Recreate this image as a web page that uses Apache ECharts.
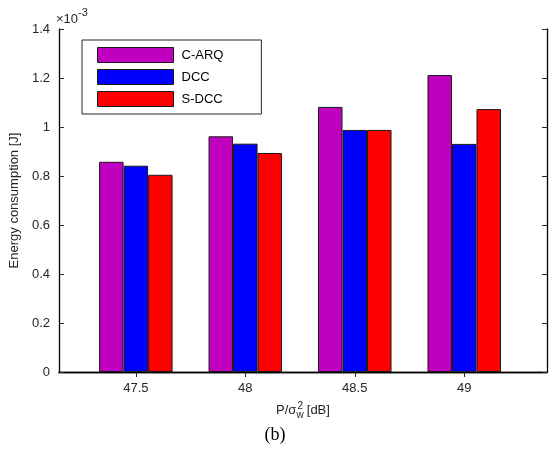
<!DOCTYPE html>
<html>
<head>
<meta charset="utf-8">
<script src="https://cdn.jsdelivr.net/npm/echarts@6/dist/echarts.min.js"></script>
<style>
  html, body { margin: 0; padding: 0; background: #fff; }
  #chart { width: 550px; height: 452px; }
</style>
</head>
<body>
<div id="chart"></div>
<script>
var snr = [47.5, 48, 48.5, 49];
var carq = [0.858, 0.962, 1.082, 1.212];
var dcc = [0.842, 0.932, 0.988, 0.931];
var sdcc = [0.805, 0.894, 0.988, 1.073];
var yTicks = [0, 0.2, 0.4, 0.6, 0.8, 1, 1.2, 1.4];

var font = 'Liberation Sans, Arial, sans-serif';
var ink = '#262626';

function pairs(vals) {
    return vals.map(function (v, i) { return [snr[i], v]; });
}

function barSeries(name, color, vals) {
    return {
        name: name,
        type: 'bar',
        data: pairs(vals),
        barWidth: 24.5,
        barGap: '0%',
        itemStyle: { color: color, borderColor: '#1a1a1a', borderWidth: 1 },
        emphasis: { disabled: true }
    };
}

var chart = echarts.init(document.getElementById('chart'));
var option = {
    animation: false,
    grid: { left: 55, right: 3, top: 29, bottom: 80, containLabel: false },
    legend: {
        left: 82, top: 40,
        orient: 'vertical',
        icon: 'rect',
        itemWidth: 76, itemHeight: 15, itemGap: 6,
        padding: [7, 38, 7, 15],
        backgroundColor: '#fff',
        borderColor: ink, borderWidth: 1,
        textStyle: { fontFamily: font, fontSize: 13, color: '#000', padding: [0, 0, 0, 3] },
        itemStyle: { borderColor: '#1a1a1a', borderWidth: 1 },
        data: ['C-ARQ', 'DCC', 'S-DCC']
    },
    xAxis: [
        {
            type: 'value', min: 47.149, max: 49.378,
            splitLine: { show: false },
            axisLine: { lineStyle: { color: '#000', width: 1.3 } },
            axisTick: { inside: true, length: 5, customValues: snr, lineStyle: { color: ink } },
            axisLabel: { customValues: snr, margin: 10, fontFamily: font, fontSize: 13, color: ink,
                formatter: function (v) { return String(v); } },
            name: '{t|P/σ}{s|w}{p|2}{t| [dB]}',
            nameLocation: 'middle', nameGap: 29,
            nameTextStyle: {
                rich: {
                    t: { fontFamily: font, fontSize: 13, color: ink },
                    s: { fontFamily: font, fontSize: 10, color: ink, padding: [9, 0, 0, 0] },
                    p: { fontFamily: font, fontSize: 10, color: ink, padding: [0, 0, 9, -6] }
                }
            }
        },
        {
            type: 'value', position: 'top', min: 47.149, max: 49.378,
            splitLine: { show: false },
            axisLine: { lineStyle: { color: '#000', width: 1.3 } },
            axisTick: { inside: true, length: 5, customValues: snr, lineStyle: { color: ink } },
            axisLabel: { show: false }
        }
    ],
    yAxis: [
        {
            type: 'value', min: 0, max: 1.4, interval: 0.2,
            splitLine: { show: false },
            axisLine: { show: true, lineStyle: { color: '#000', width: 1.3 } },
            axisTick: { show: true, inside: true, length: 5, lineStyle: { color: ink } },
            axisLabel: { margin: 9, fontFamily: font, fontSize: 13, color: ink,
                formatter: function (v) { return String(Math.round(v * 10) / 10); } },
            name: 'Energy consumption [J]',
            nameLocation: 'middle', nameGap: 31,
            nameTextStyle: { fontFamily: font, fontSize: 13, color: ink }
        },
        {
            type: 'value', position: 'right', min: 0, max: 1.4, interval: 0.2,
            splitLine: { show: false },
            axisLine: { show: true, lineStyle: { color: '#000', width: 1.3 } },
            axisTick: { show: true, inside: true, length: 5, lineStyle: { color: ink } },
            axisLabel: { show: false }
        }
    ],
    graphic: [
        {
            type: 'text', left: 56, top: 7,
            style: {
                text: '{a|×10}{b|-3}',
                rich: {
                    a: { fontFamily: font, fontSize: 13, fill: ink, padding: [7, 0, 0, 0] },
                    b: { fontFamily: font, fontSize: 11, fill: ink, padding: [0, 0, 7, 0] }
                }
            }
        },
        {
            type: 'text', left: 'center', top: 426,
            style: { text: '(b)', font: '18px "Liberation Serif", "Times New Roman", serif', fill: '#000' }
        }
    ],
    series: [
        barSeries('C-ARQ', '#bf00bf', carq),
        barSeries('DCC', '#0000ff', dcc),
        barSeries('S-DCC', '#ff0000', sdcc)
    ]
};
chart.setOption(option);
</script>
</body>
</html>
